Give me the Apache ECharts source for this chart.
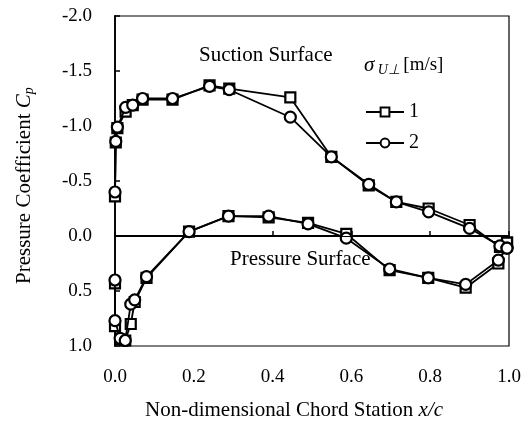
<!DOCTYPE html>
<html><head><meta charset="utf-8">
<script src="https://cdn.jsdelivr.net/npm/echarts@6/dist/echarts.min.js"></script>
<style>html,body{margin:0;padding:0;background:#fff}#c{width:528px;height:423px}</style>
</head><body><div id="c"></div>
<script>
// Suction surface
var suctionX = [0.0, 0.002, 0.006, 0.027, 0.045, 0.07, 0.146, 0.24, 0.29, 0.445, 0.549, 0.644, 0.714, 0.796, 0.90, 0.977, 0.995];
var suctionCp1 = [-0.36, -0.85, -0.98, -1.13, -1.19, -1.24, -1.24, -1.37, -1.34, -1.26, -0.72, -0.46, -0.31, -0.25, -0.10, 0.10, 0.06];
var suctionCp2 = [-0.40, -0.86, -0.99, -1.17, -1.19, -1.25, -1.25, -1.36, -1.33, -1.08, -0.72, -0.47, -0.31, -0.22, -0.07, 0.09, 0.11];
// Pressure surface
var pressureX = [0.0, 0.0, 0.013, 0.026, 0.040, 0.050, 0.080, 0.188, 0.288, 0.39, 0.49, 0.587, 0.697, 0.795, 0.89, 0.973, 0.995];
var pressureCp1 = [0.43, 0.82, 0.94, 0.95, 0.80, 0.60, 0.38, -0.04, -0.18, -0.17, -0.12, -0.02, 0.31, 0.38, 0.47, 0.25, 0.06];
var pressureCp2 = [0.40, 0.77, 0.93, 0.95, 0.62, 0.58, 0.37, -0.04, -0.18, -0.18, -0.11, 0.02, 0.30, 0.38, 0.44, 0.22, 0.11];
var xTicks = [0, 0.2, 0.4, 0.6, 0.8, 1.0];
var yTicks = [-2.0, -1.5, -1.0, -0.5, 0.0, 0.5, 1.0];
var seriesNames = ['1', '2'];

function pairs(xs, ys) { return xs.map(function (x, i) { return [x, ys[i]]; }); }
var FONT = 'Liberation Serif';
function mk(name, data, symbol, extra) {
  var s = {
    name: name, type: 'line', data: data, symbol: symbol, symbolSize: symbol === 'circle' ? 11 : 10,
    lineStyle: { color: '#000', width: 1.8 },
    itemStyle: { color: '#fff', borderColor: '#000', borderWidth: 2.2 },
    emphasis: { disabled: true }, z: symbol === 'circle' ? 4 : 3, animation: false
  };
  if (extra) for (var k in extra) s[k] = extra[k];
  return s;
}
var chart = echarts.init(document.getElementById('c'));
chart.setOption({
  animation: false,
  grid: { left: 115, right: 19, top: 16, bottom: 77, show: true, borderColor: '#000', borderWidth: 1.2 },
  xAxis: {
    type: 'value', min: xTicks[0], max: xTicks[xTicks.length - 1], interval: 0.2,
    axisLine: { lineStyle: { color: '#000', width: 1.8 } },
    axisTick: { inside: true, length: 5, lineStyle: { color: '#000', width: 1.5 } },
    splitLine: { show: false },
    axisLabel: { color: '#000', fontFamily: FONT, fontSize: 19, margin: 22, formatter: function (v) { return v.toFixed(1); } }
  },
  yAxis: {
    type: 'value', inverse: true, min: yTicks[0], max: yTicks[yTicks.length - 1], interval: 0.5,
    axisLine: { lineStyle: { color: '#000', width: 1.8 } },
    axisTick: { inside: true, length: 5, lineStyle: { color: '#000', width: 1.5 } },
    splitLine: { show: false },
    axisLabel: { color: '#000', fontFamily: FONT, fontSize: 19, margin: 23, formatter: function (v) { return v.toFixed(1); } }
  },
  legend: {
    data: seriesNames, orient: 'vertical', left: 360, top: 97, itemGap: 11,
    itemWidth: 38, itemHeight: 11,
    textStyle: { fontFamily: FONT, fontSize: 20, color: '#000' }
  },
  graphic: [
    { type: 'text', left: 199, top: 45, style: { text: 'Suction Surface', font: '21px "Liberation Serif"', fill: '#000' } },
    { type: 'text', left: 230, top: 249, style: { text: 'Pressure Surface', font: '21px "Liberation Serif"', fill: '#000' } },
    { type: 'text', left: 364, top: 55, style: {
        text: '{s|σ}{u| U⊥} {n|[m/s]}',
        rich: {
          s: { font: 'italic 21px "Liberation Serif"', fill: '#000' },
          u: { font: 'italic 14px "Liberation Serif"', fill: '#000', padding: [9, 0, 0, 0] },
          n: { font: '19px "Liberation Serif"', fill: '#000' }
        } } },
    { type: 'text', left: 145, top: 400, style: {
        text: '{a|Non-dimensional Chord Station }{i|x/c}',
        rich: { a: { font: '21px "Liberation Serif"', fill: '#000' }, i: { font: 'italic 21px "Liberation Serif"', fill: '#000' } } } },
    { type: 'text', x: 12, y: 284, rotation: Math.PI / 2, style: {
        text: '{a|Pressure Coefficient }{i|C}{p|p}',
        rich: { a: { font: '21px "Liberation Serif"', fill: '#000' }, i: { font: 'italic 21px "Liberation Serif"', fill: '#000' },
                p: { font: 'italic 14px "Liberation Serif"', fill: '#000', padding: [10, 0, 0, 0] } } } }
  ],
  series: [
    mk(seriesNames[0], pairs(suctionX, suctionCp1), 'rect', {
      markLine: { silent: true, symbol: 'none', label: { show: false }, animation: false,
        lineStyle: { color: '#000', width: 1, type: 'solid' }, data: [{ yAxis: 0 }] } }),
    mk(seriesNames[1], pairs(suctionX, suctionCp2), 'circle'),
    mk(seriesNames[0], pairs(pressureX, pressureCp1), 'rect'),
    mk(seriesNames[1], pairs(pressureX, pressureCp2), 'circle')
  ]
});
</script></body></html>
